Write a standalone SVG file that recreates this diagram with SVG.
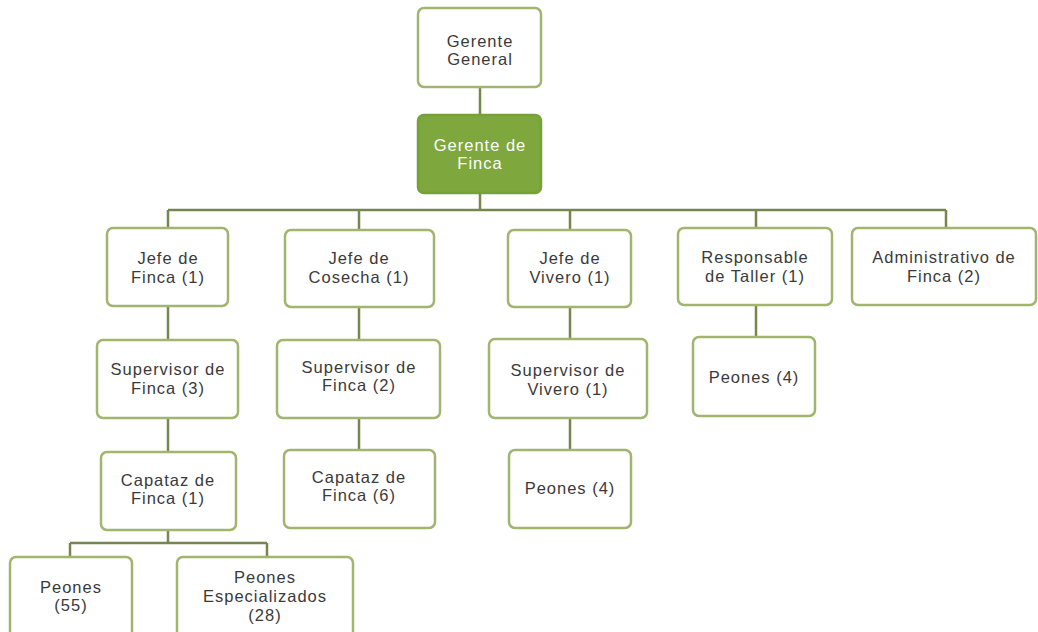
<svg xmlns="http://www.w3.org/2000/svg" width="1038" height="632" viewBox="0 0 1038 632">
<style>
.box{fill:#ffffff;stroke:#a2b56f;stroke-width:2.5}
.dark{fill:#7ea83e;stroke:#76a03a;stroke-width:2.5}
.t{font-family:"Liberation Sans",Arial,sans-serif;font-size:16.5px;letter-spacing:1px;fill:#3a3a3a;text-anchor:middle}
.tw{fill:#ffffff}
.c{stroke:#77864f;stroke-width:2.5;fill:none}
</style>
<rect width="1038" height="632" fill="#ffffff"/>
<g id="connectors">
<path class="c" d="M480 87V115M480 193V210M168 210H946M168 210V228M359 210V230M570 210V230M756 210V228M946 210V228"/>
<path class="c" d="M168 306V340M168 418V452M168 530V543M70 543H267M70 543V557M267 543V557"/>
<path class="c" d="M359 307V340M359 418V450M570 307V338M570 418V450M756 305V337"/>
</g>
<g id="gerente-general"><rect class="box" x="418" y="8" width="123" height="79" rx="6"/><text class="t" x="480" y="47">Gerente</text><text class="t" x="480" y="65">General</text></g>
<g id="gerente-finca"><rect class="dark" x="418" y="115" width="123" height="78" rx="6"/><text class="t tw" x="480" y="151">Gerente de</text><text class="t tw" x="480" y="169">Finca</text></g>
<g id="jefe-finca"><rect class="box" x="107" y="228" width="121" height="78" rx="6"/><text class="t" x="168" y="264">Jefe de</text><text class="t" x="168" y="283">Finca (1)</text></g>
<g id="jefe-cosecha"><rect class="box" x="285" y="230" width="149" height="77" rx="6"/><text class="t" x="359" y="264">Jefe de</text><text class="t" x="359" y="283">Cosecha (1)</text></g>
<g id="jefe-vivero"><rect class="box" x="508" y="230" width="123" height="77" rx="6"/><text class="t" x="570" y="264">Jefe de</text><text class="t" x="570" y="283">Vivero (1)</text></g>
<g id="responsable-taller"><rect class="box" x="678" y="228" width="154" height="77" rx="6"/><text class="t" x="755" y="263">Responsable</text><text class="t" x="755" y="282">de Taller (1)</text></g>
<g id="administrativo-finca"><rect class="box" x="852" y="228" width="184" height="77" rx="6"/><text class="t" x="944" y="263">Administrativo de</text><text class="t" x="944" y="282">Finca (2)</text></g>
<g id="supervisor-finca-3"><rect class="box" x="97" y="340" width="141" height="78" rx="6"/><text class="t" x="168" y="375">Supervisor de</text><text class="t" x="168" y="394">Finca (3)</text></g>
<g id="supervisor-finca-2"><rect class="box" x="277" y="340" width="163" height="78" rx="6"/><text class="t" x="359" y="373">Supervisor de</text><text class="t" x="359" y="391">Finca (2)</text></g>
<g id="supervisor-vivero"><rect class="box" x="489" y="339" width="158" height="79" rx="6"/><text class="t" x="568" y="376">Supervisor de</text><text class="t" x="568" y="395">Vivero (1)</text></g>
<g id="peones-taller"><rect class="box" x="693" y="337" width="122" height="79" rx="6"/><text class="t" x="754" y="383">Peones (4)</text></g>
<g id="capataz-finca-1"><rect class="box" x="101" y="452" width="135" height="78" rx="6"/><text class="t" x="168" y="486">Capataz de</text><text class="t" x="168" y="504">Finca (1)</text></g>
<g id="capataz-finca-6"><rect class="box" x="284" y="450" width="151" height="78" rx="6"/><text class="t" x="359" y="483">Capataz de</text><text class="t" x="359" y="501">Finca (6)</text></g>
<g id="peones-vivero"><rect class="box" x="509" y="450" width="122" height="78" rx="6"/><text class="t" x="570" y="494">Peones (4)</text></g>
<g id="peones-55"><rect class="box" x="10" y="557" width="122" height="90" rx="6"/><text class="t" x="71" y="593">Peones</text><text class="t" x="71" y="611">(55)</text></g>
<g id="peones-especializados"><rect class="box" x="177" y="557" width="176" height="90" rx="6"/><text class="t" x="265" y="583">Peones</text><text class="t" x="265" y="602">Especializados</text><text class="t" x="265" y="621">(28)</text></g>
</svg>
